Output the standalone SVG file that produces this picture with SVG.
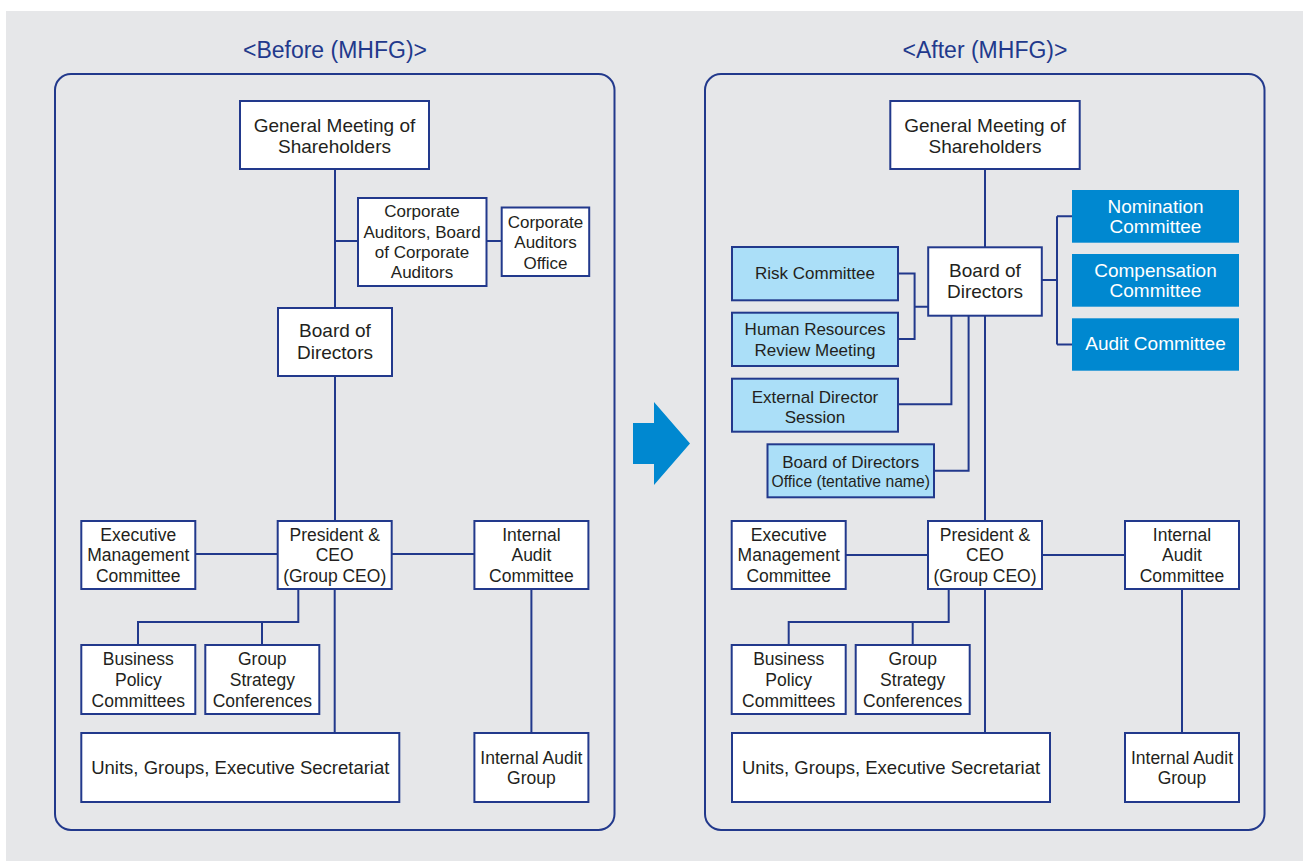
<svg xmlns="http://www.w3.org/2000/svg" width="1303" height="861" viewBox="0 0 1303 861">
<style>
.frame{fill:none;stroke:#22398c;stroke-width:2}
.box{fill:#ffffff;stroke:#22398c;stroke-width:2}
.lb{fill:#abdff8;stroke:#22398c;stroke-width:2}
.db{fill:#0088d0;stroke:none}
.ln{fill:none;stroke:#22398c;stroke-width:2}
text{font-family:"Liberation Sans",Arial,sans-serif;fill:#231f20;text-anchor:middle}
.t{font-size:23px;fill:#22398c}
.f19{font-size:19px}
.f18{font-size:18.5px}
.f17{font-size:17.5px}
.f17s{font-size:17px}
.f16{font-size:17px}
.w{font-size:19px;fill:#ffffff}
</style>
<rect x="6" y="11" width="1297" height="850" fill="#e6e7e9"/>
<text class="t" x="335" y="58">&lt;Before (MHFG)&gt;</text>
<text class="t" x="985" y="58">&lt;After (MHFG)&gt;</text>
<rect class="frame" x="55" y="74" width="559.5" height="756" rx="16"/>
<rect class="frame" x="705" y="74" width="559.5" height="756" rx="16"/>
<polygon points="633,423 654,423 654,402 690,443.5 654,485 654,464 633,464" fill="#0088d0"/>

<g id="connectors">
<path class="ln" d="M335,169V308M335,241H358M486.5,241H501.7M335,376V521M195.4,554H277.7M391.7,554H474.4M298.3,589V622H138V645M262,622V645M334.7,589V733M531.4,589V733"/>
<path class="ln" d="M985,169V247M898,273.5H914.6V339H898M914.6,306.7H928M951.4,316V404.3H898M968.6,316V470.7H934M985,316V521M1042,280H1057M1057,216.3V344.5M1057,216.3H1072M1057,344.5H1072M846,555H928M1042,555H1125M948.7,589V622H788.7V645M912.7,622V645M985,589V733M1182,589V733"/>
</g>

<g id="b-gm"><rect class="box" x="240" y="101" width="189" height="68"/><text class="f19" x="334.5" y="132">General Meeting of</text><text class="f19" x="334.5" y="153">Shareholders</text></g>
<g id="b-ca"><rect class="box" x="358" y="198" width="128.5" height="88"/><text class="f17s" x="422" y="217">Corporate</text><text class="f17s" x="422" y="237.5">Auditors, Board</text><text class="f17s" x="422" y="258">of Corporate</text><text class="f17s" x="422" y="278">Auditors</text></g>
<g id="b-cao"><rect class="box" x="501.7" y="207.5" width="87.5" height="68.5"/><text class="f17s" x="545.5" y="227.5">Corporate</text><text class="f17s" x="545.5" y="248">Auditors</text><text class="f17s" x="545.5" y="268.5">Office</text></g>
<g id="b-bod"><rect class="box" x="278" y="308" width="114" height="68"/><text class="f19" x="335" y="337">Board of</text><text class="f19" x="335" y="358.5">Directors</text></g>
<g id="b-emc"><rect class="box" x="81.3" y="521" width="114" height="68"/><text class="f17" x="138.3" y="540.5">Executive</text><text class="f17" x="138.3" y="561">Management</text><text class="f17" x="138.3" y="581.7">Committee</text></g>
<g id="b-pres"><rect class="box" x="277.7" y="521" width="114" height="68"/><text class="f17" x="334.7" y="540.5">President &amp;</text><text class="f17" x="334.7" y="561">CEO</text><text class="f17" x="334.7" y="581.7">(Group CEO)</text></g>
<g id="b-iac"><rect class="box" x="474.4" y="521" width="114" height="68"/><text class="f17" x="531.4" y="540.5">Internal</text><text class="f17" x="531.4" y="561">Audit</text><text class="f17" x="531.4" y="581.7">Committee</text></g>
<g id="b-bpc"><rect class="box" x="81.3" y="645" width="114" height="69"/><text class="f17" x="138.3" y="665">Business</text><text class="f17" x="138.3" y="685.7">Policy</text><text class="f17" x="138.3" y="706.5">Committees</text></g>
<g id="b-gsc"><rect class="box" x="205.3" y="645" width="114" height="69"/><text class="f17" x="262.3" y="665">Group</text><text class="f17" x="262.3" y="685.7">Strategy</text><text class="f17" x="262.3" y="706.5">Conferences</text></g>
<g id="b-units"><rect class="box" x="81.3" y="733" width="318" height="69"/><text class="f18" x="240.3" y="774">Units, Groups, Executive Secretariat</text></g>
<g id="b-iag"><rect class="box" x="474.4" y="733" width="114" height="69"/><text class="f17" x="531.4" y="763.5">Internal Audit</text><text class="f17" x="531.4" y="784">Group</text></g>

<g id="a-gm"><rect class="box" x="890.3" y="101" width="189.4" height="68"/><text class="f19" x="985" y="132">General Meeting of</text><text class="f19" x="985" y="153">Shareholders</text></g>
<g id="a-nom"><rect class="db" x="1072" y="190" width="167" height="52.7"/><text class="w" x="1155.5" y="212.7">Nomination</text><text class="w" x="1155.5" y="232.7">Committee</text></g>
<g id="a-comp"><rect class="db" x="1072" y="254" width="167" height="52.7"/><text class="w" x="1155.5" y="276.7">Compensation</text><text class="w" x="1155.5" y="296.7">Committee</text></g>
<g id="a-audit"><rect class="db" x="1072" y="318.3" width="167" height="52.4"/><text class="w" x="1155.5" y="349.8">Audit Committee</text></g>
<g id="a-bod"><rect class="box" x="928.2" y="247.3" width="113.6" height="68.4"/><text class="f19" x="985" y="276.7">Board of</text><text class="f19" x="985" y="297.7">Directors</text></g>
<g id="a-risk"><rect class="lb" x="732" y="247" width="166" height="53.3"/><text class="f16" x="815" y="279">Risk Committee</text></g>
<g id="a-hr"><rect class="lb" x="732" y="312.7" width="166" height="53.3"/><text class="f16" x="815" y="335">Human Resources</text><text class="f16" x="815" y="355.7">Review Meeting</text></g>
<g id="a-ext"><rect class="lb" x="732" y="378.7" width="166" height="53"/><text class="f16" x="815" y="402.7">External Director</text><text class="f16" x="815" y="423.3">Session</text></g>
<g id="a-office"><rect class="lb" x="767.5" y="444.3" width="166.5" height="53"/><text class="f16" x="850.7" y="468">Board of Directors</text><text style="font-size:15.7px" x="850.7" y="487.3">Office (tentative name)</text></g>
<g id="a-emc"><rect class="box" x="731.7" y="521" width="114" height="68"/><text class="f17" x="788.7" y="540.5">Executive</text><text class="f17" x="788.7" y="561">Management</text><text class="f17" x="788.7" y="581.7">Committee</text></g>
<g id="a-pres"><rect class="box" x="928" y="521" width="114" height="68"/><text class="f17" x="985" y="540.5">President &amp;</text><text class="f17" x="985" y="561">CEO</text><text class="f17" x="985" y="581.7">(Group CEO)</text></g>
<g id="a-iac"><rect class="box" x="1125" y="521" width="114" height="68"/><text class="f17" x="1182" y="540.5">Internal</text><text class="f17" x="1182" y="561">Audit</text><text class="f17" x="1182" y="581.7">Committee</text></g>
<g id="a-bpc"><rect class="box" x="731.7" y="645" width="114" height="69"/><text class="f17" x="788.7" y="665">Business</text><text class="f17" x="788.7" y="685.7">Policy</text><text class="f17" x="788.7" y="706.5">Committees</text></g>
<g id="a-gsc"><rect class="box" x="855.7" y="645" width="114" height="69"/><text class="f17" x="912.7" y="665">Group</text><text class="f17" x="912.7" y="685.7">Strategy</text><text class="f17" x="912.7" y="706.5">Conferences</text></g>
<g id="a-units"><rect class="box" x="732" y="733" width="318" height="69"/><text class="f18" x="891" y="774">Units, Groups, Executive Secretariat</text></g>
<g id="a-iag"><rect class="box" x="1125" y="733" width="114" height="69"/><text class="f17" x="1182" y="763.5">Internal Audit</text><text class="f17" x="1182" y="784">Group</text></g>
</svg>
